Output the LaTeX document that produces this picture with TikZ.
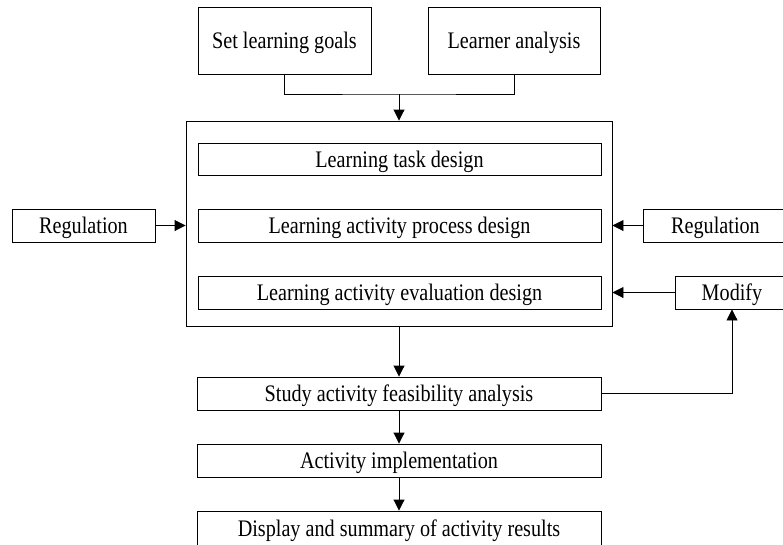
\documentclass[tikz,border=0pt]{standalone}
\usepackage{fontspec}
\setmainfont{Liberation Serif}[FakeStretch=0.852]
\usetikzlibrary{arrows.meta}
\begin{document}
\begin{tikzpicture}[x=1pt,y=-1pt,
  every node/.style={font=\fontsize{23.7}{28}\selectfont, inner sep=0pt,
    text height=17pt, text depth=1pt},
  box/.style={draw, line width=0.9pt, minimum height=33pt},
  frame/.style={draw, line width=0.9pt},
  arr/.style={line width=0.9pt, -{Triangle[length=11pt,width=11pt]}},
  link/.style={line width=0.9pt}]
\useasboundingbox (0,0) rectangle (783,544);
\clip (0,0) rectangle (783,544);

% top inputs
\node[box, minimum width=173pt, minimum height=67pt] (goals) at (284.5,40.5) {Set learning goals};
\node[box, minimum width=172pt, minimum height=67pt] (learner) at (514,40.5) {Learner analysis};

% design block with its three parts
\node[frame, minimum width=426pt, minimum height=205pt] (big) at (399,223.5) {};
\node[box, minimum width=403pt, minimum height=32pt] (task) at (399.5,159) {Learning task design};
\node[box, minimum width=403pt] (process) at (399.5,225.5) {Learning activity process design};
\node[box, minimum width=403pt] (eval) at (399.5,292.5) {Learning activity evaluation design};

% side inputs
\node[box, minimum width=143pt] (regL) at (83.5,225.5) {Regulation};
\node[box, minimum width=145pt] (regR) at (715.5,225.5) {Regulation};
\node[box, minimum width=114pt] (modify) at (732,292.5) {Modify};

% downstream steps
\node[box, minimum width=404pt] (feas) at (399,393.5) {Study activity feasibility analysis};
\node[box, minimum width=404pt] (impl) at (399,460.5) {Activity implementation};
\node[box, minimum width=404pt, minimum height=34pt] (disp) at (399,528) {Display and summary of activity results};

% connectors
\coordinate (join) at (399,94);
\draw[link] (goals.south) |- (join) -| (learner.south);
\draw[arr] (join) -- (big.north);
\draw[arr] (regL.east) -- (regL.east -| big.west);
\draw[arr] (regR.west) -- (regR.west -| big.east);
\draw[arr] (modify.west) -- (modify.west -| big.east);
\draw[arr] (big.south) -- (feas.north);
\draw[arr] (feas.east) -| (modify.south);
\draw[arr] (feas.south) -- (impl.north);
\draw[arr] (impl.south) -- (disp.north);
\end{tikzpicture}
\end{document}
